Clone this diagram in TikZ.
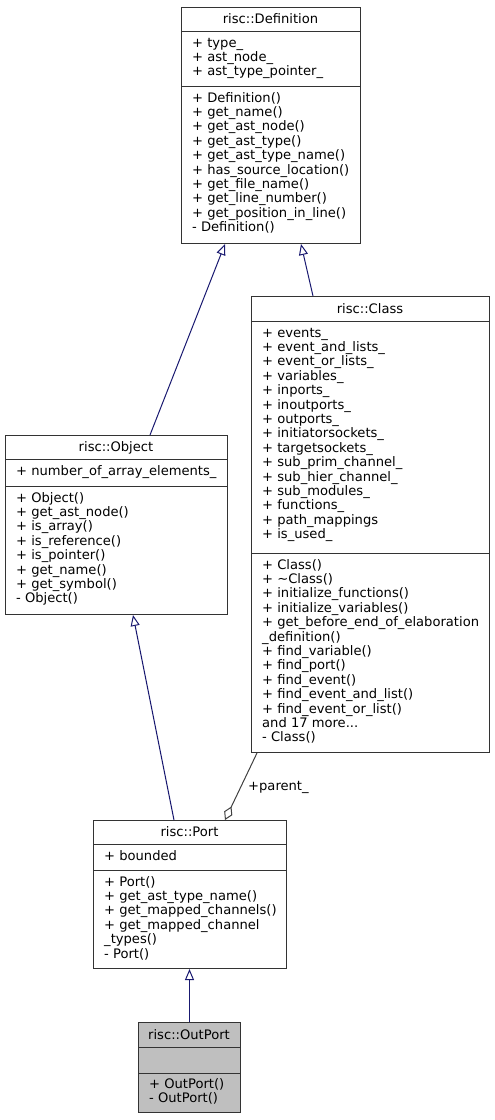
\documentclass[tikz,border=0pt]{standalone}
\usepackage{fontspec}
\setmainfont{DejaVu Sans}
\usetikzlibrary{arrows.meta,calc}
\definecolor{edgeblue}{HTML}{191970}
\definecolor{edgegrey}{HTML}{404040}
\definecolor{boxgrey}{HTML}{BFBFBF}
\newcommand\complines[4]{%
  \foreach \t [count=\i] in {#4} {%
    \node[txt] (#1-\i) at (#2, {#3+14.4*(\i-1)}) {\t};
  }%
}
\newcommand\threedots{.{}.{}.}
\begin{document}
\begin{tikzpicture}[x=1pt,y=-1pt,
  txt/.style={font=\fontsize{13.1}{14.4}\selectfont, inner sep=0pt, anchor=base west},
  ttl/.style={font=\fontsize{13.1}{14.4}\selectfont, inner sep=0pt, anchor=base},
  umlbox/.style={draw=black!80, line width=1pt, inner sep=0pt, anchor=north west},
  sepline/.style={draw=black!80, line width=1pt},
  inherit/.style={draw=edgeblue, line width=1pt, -{Triangle[open,length=11pt,width=9pt]}},
  member/.style={draw=edgegrey, line width=1pt, {Diamond[open,length=15pt,width=9pt]}-},
  lbl/.style={font=\fontsize{13.1}{14.4}\selectfont, inner sep=0pt, anchor=base west}
]
\useasboundingbox (0,0) rectangle (495,1120);

% ---- risc::Definition
\node[umlbox, minimum width=179pt, minimum height=236pt] (def) at (181,7) {};
\draw[sepline] (181,31) -- (360,31);
\draw[sepline] (181,86) -- (360,86);
\node[ttl] (def-t) at (270.5,23.3) {risc::Definition};
\complines{def-a}{192}{47}{+ type\_,+ ast\_node\_,+ ast\_type\_pointer\_}
\complines{def-m}{192}{102}{+ Definition(),+ get\_name(),+ get\_ast\_node(),+ get\_ast\_type(),+ get\_ast\_type\_name(),+ has\_source\_location(),+ get\_file\_name(),+ get\_line\_number(),+ get\_position\_in\_line(),- Definition()}

% ---- risc::Class
\node[umlbox, minimum width=238pt, minimum height=456pt] (cls) at (251,296) {};
\draw[sepline] (251,321) -- (489,321);
\draw[sepline] (251,553) -- (489,553);
\node[ttl] (cls-t) at (370,313.3) {risc::Class};
\complines{cls-a}{262}{337}{+ events\_,+ event\_and\_lists\_,+ event\_or\_lists\_,+ variables\_,+ inports\_,+ inoutports\_,+ outports\_,+ initiatorsockets\_,+ targetsockets\_,+ sub\_prim\_channel\_,+ sub\_hier\_channel\_,+ sub\_modules\_,+ functions\_,+ path\_mappings,+ is\_used\_}
\complines{cls-m}{262}{569}{+ Class(),+ \textasciitilde Class(),+ initialize\_functions(),+ initialize\_variables(),+ get\_before\_end\_of\_elaboration,\_definition(),+ find\_variable(),+ find\_port(),+ find\_event(),+ find\_event\_and\_list(),+ find\_event\_or\_list(),and 17 more\threedots,- Class()}

% ---- risc::Object
\node[umlbox, minimum width=222pt, minimum height=179pt] (obj) at (5,435) {};
\draw[sepline] (5,459) -- (227,459);
\draw[sepline] (5,486) -- (227,486);
\node[ttl] (obj-t) at (116,451.3) {risc::Object};
\complines{obj-a}{16}{475}{+ number\_of\_array\_elements\_}
\complines{obj-m}{16}{502}{+ Object(),+ get\_ast\_node(),+ is\_array(),+ is\_reference(),+ is\_pointer(),+ get\_name(),+ get\_symbol(),- Object()}

% ---- risc::Port
\node[umlbox, minimum width=193pt, minimum height=148pt] (port) at (93,820) {};
\draw[sepline] (93,844) -- (286,844);
\draw[sepline] (93,870) -- (286,870);
\node[ttl] (port-t) at (189.5,836.3) {risc::Port};
\complines{port-a}{104}{860}{+ bounded}
\complines{port-m}{104}{886}{+ Port(),+ get\_ast\_type\_name(),+ get\_mapped\_channels(),+ get\_mapped\_channel,\_types(),- Port()}

% ---- risc::OutPort
\node[umlbox, fill=boxgrey, minimum width=102pt, minimum height=90pt] (outp) at (138,1022) {};
\draw[sepline] (138,1047) -- (240,1047);
\draw[sepline] (138,1073) -- (240,1073);
\node[ttl] (outp-t) at (189,1039.3) {risc::OutPort};
\complines{outp-m}{149}{1088}{+ OutPort(),- OutPort()}

% ---- connectors
\draw[inherit] ($(obj.north west)+(145,0)$) -- ($(def.south west)+(44,0)$);
\draw[inherit] ($(cls.north west)+(62,0)$) -- ($(def.south west)+(120,0)$);
\draw[inherit] ($(port.north west)+(81,0)$) -- ($(obj.south west)+(128,0)$);
\draw[inherit] (outp.north) -- (outp.north |- port.south);
\draw[member] ($(port.north west)+(132,0)$) -- ($(cls.south west)+(6,0)$);
\node[lbl] (parent) at (248,790) {+parent\_};
\end{tikzpicture}
\end{document}
